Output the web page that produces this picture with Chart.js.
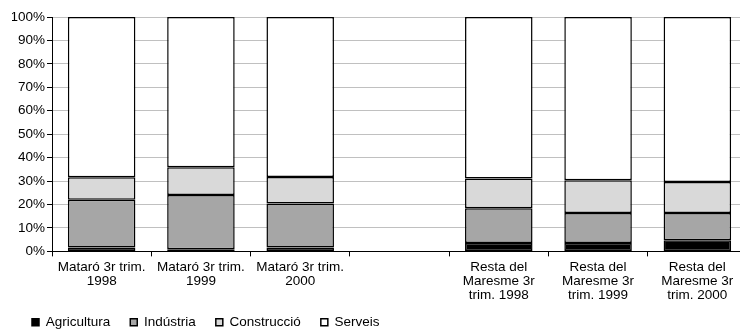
<!DOCTYPE html>
<html>
<head>
<meta charset="utf-8">
<script src="https://cdn.jsdelivr.net/npm/chart.js@4/dist/chart.umd.min.js"></script>
<style>
  html, body { margin: 0; padding: 0; background: #fff; overflow: hidden; }
  #wrap { width: 740px; height: 331px; overflow: hidden; }
</style>
</head>
<body>
<div id="wrap"><canvas id="grafic" width="750" height="331"></canvas></div>
<script>
// categories (la 4a es buida, com a l'original)
const categories = [
  ["Mataró 3r trim.", "1998"],
  ["Mataró 3r trim.", "1999"],
  ["Mataró 3r trim.", "2000"],
  "",
  ["Resta del", "Maresme 3r", "trim. 1998"],
  ["Resta del", "Maresme 3r", "trim. 1999"],
  ["Resta del", "Maresme 3r", "trim. 2000"]
];

// percentatges per sector
const agricultura  = [1.7, 0.9, 1.7, null, 3.6, 3.6, 4.7];
const industria    = [20.3, 23.2, 18.7, null, 14.8, 12.8, 11.7];
const construccio  = [9.6, 11.8, 11.3, null, 12.7, 14.0, 13.2];
const serveis      = [68.4, 64.1, 68.3, null, 68.9, 69.6, 70.4];

const yTicks = [0, 10, 20, 30, 40, 50, 60, 70, 80, 90, 100];

const font = { family: "'Liberation Sans', Arial, sans-serif", size: 13.5, lineHeight: 1.04 };

function serie(label, data, color) {
  return {
    label: label,
    data: data,
    backgroundColor: color,
    borderColor: "#000",
    borderWidth: 1.5,
    borderSkipped: false,
    barPercentage: 0.68,
    categoryPercentage: 1
  };
}

new Chart(document.getElementById("grafic"), {
  type: "bar",
  data: {
    labels: categories,
    datasets: [
      serie("Agricultura", agricultura, "#000000"),
      serie("Indústria", industria, "#a6a6a6"),
      serie("Construcció", construccio, "#d9d9d9"),
      serie("Serveis", serveis, "#ffffff")
    ]
  },
  options: {
    responsive: false,
    animation: false,
    layout: { padding: { left: 12, right: 3, top: 17, bottom: -8 } },
    plugins: {
      tooltip: { enabled: false },
      legend: {
        position: "bottom",
        align: "start",
        labels: {
          font: font,
          color: "#000",
          boxWidth: 7,
          boxHeight: 7,
          padding: 20
        }
      }
    },
    scales: {
      x: {
        stacked: true,
        grid: { offset: true, drawOnChartArea: false, tickLength: 5, tickColor: "#000" },
        border: { color: "#000", width: 1 },
        ticks: { font: font, color: "#000", maxRotation: 0, autoSkip: false, padding: 4 },
        afterFit: (scale) => {
          // les etiquetes de 3 linies poden sobresortir cap a la llegenda
          scale.height = scale.height - 11;
          scale._computeLabelArea = () => undefined;
        }
      },
      y: {
        stacked: true,
        min: 0,
        max: 100,
        afterBuildTicks: (scale) => { scale.ticks = yTicks.map(v => ({ value: v })); },
        afterFit: (scale) => { scale.width = 40; },
        grid: { color: "#c0c0c0", tickLength: 5, tickColor: "#000" },
        border: { color: "#000", width: 1 },
        ticks: { font: font, color: "#000", padding: 2, callback: (v) => v + "%" }
      }
    }
  }
});
</script>
</body>
</html>
